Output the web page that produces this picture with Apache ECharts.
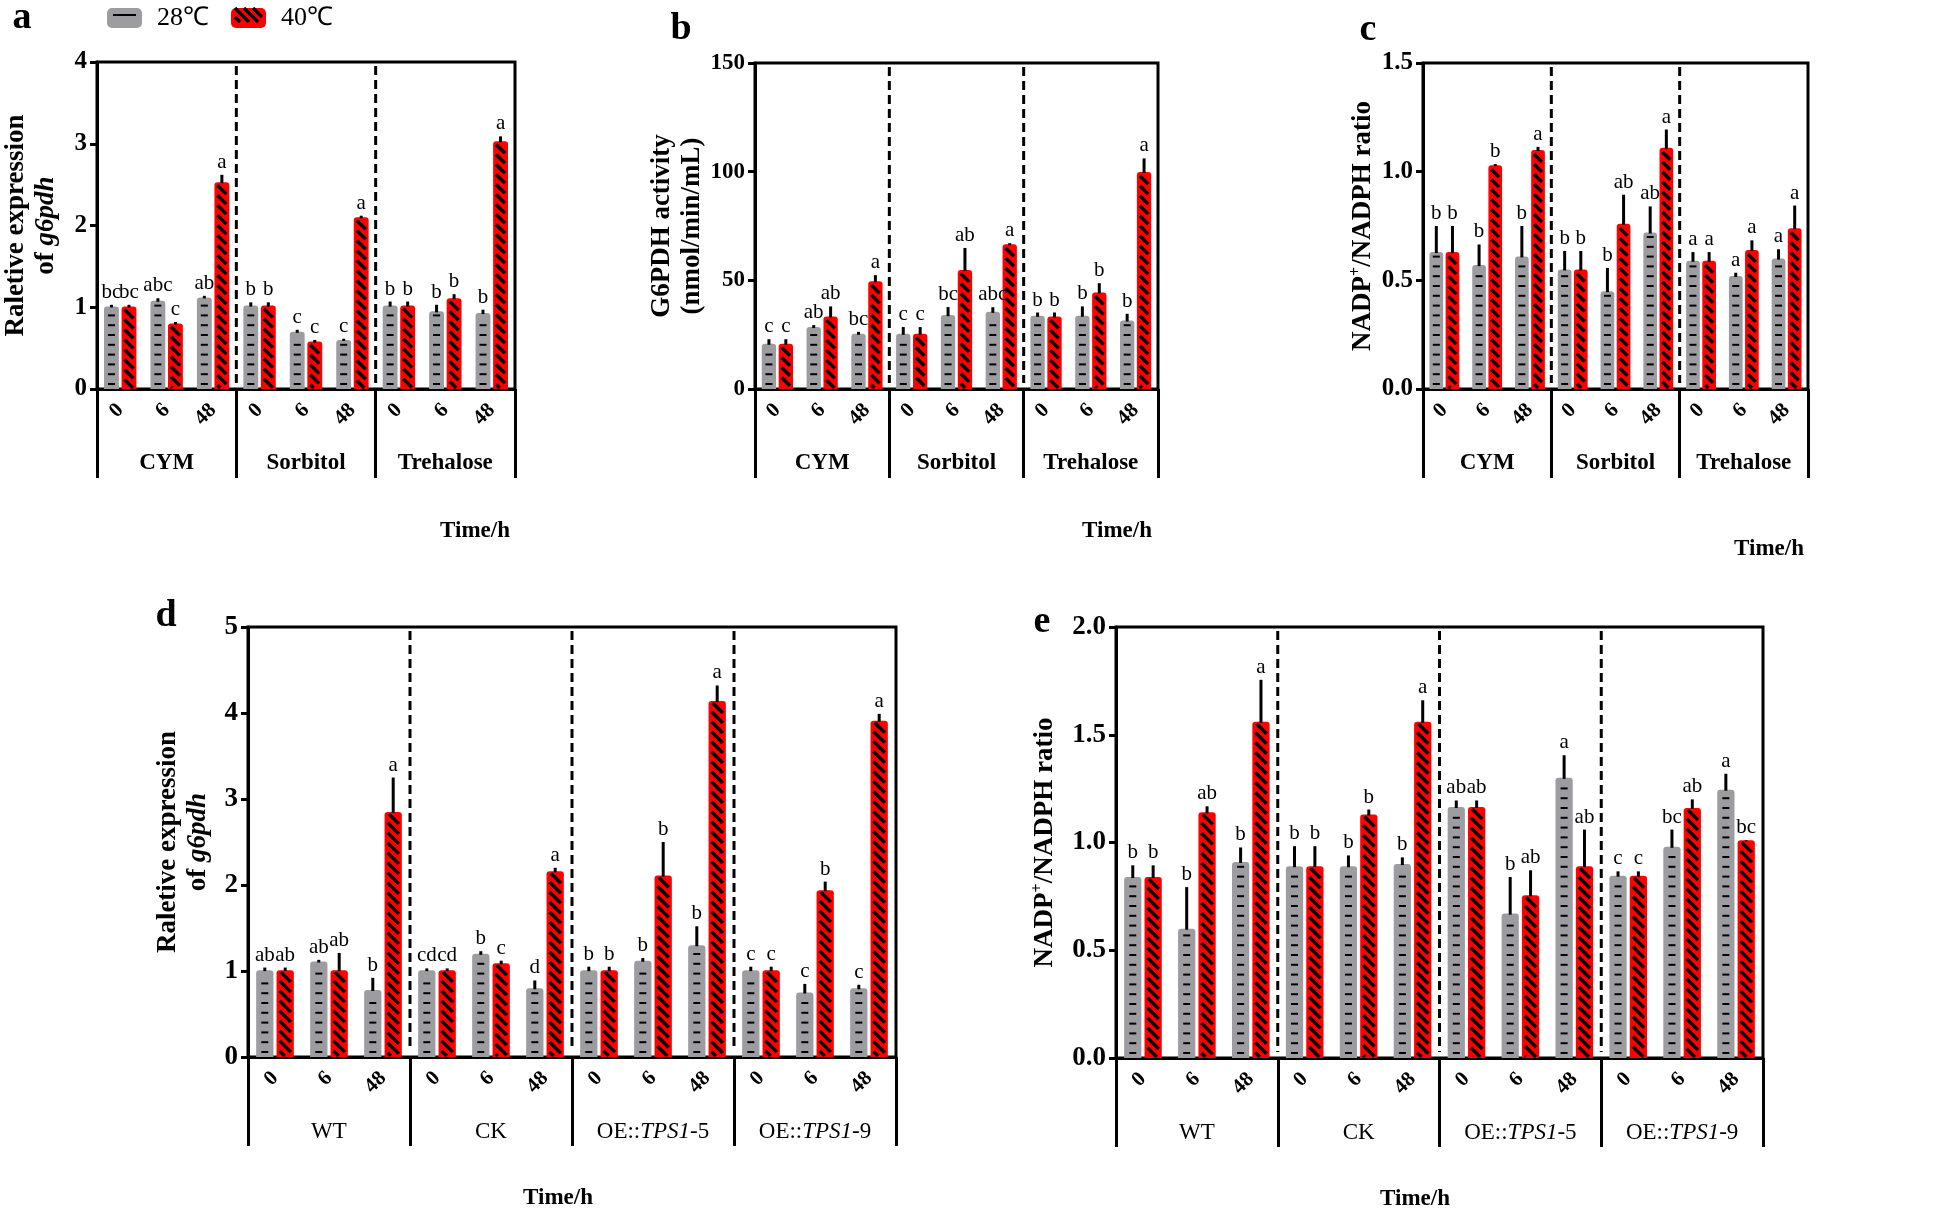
<!DOCTYPE html>
<html><head><meta charset="utf-8">
<script src="https://cdn.jsdelivr.net/npm/echarts@6/dist/echarts.min.js"></script>
<style>html,body{margin:0;padding:0;background:#fff}#c{width:1960px;height:1214px}</style>
</head><body><div id="c"></div><script>
// ---------- data ----------
const timeLabels = ['0', '6', '48'];
const groupsABC = ['CYM', 'Sorbitol', 'Trehalose'];
const groupsDE = ['WT', 'CK', 'OE::TPS1-5', 'OE::TPS1-9'];
const seriesNames = ['28℃', '40℃'];

// panel a: relative expression of g6pdh
const a_28 = [1.01, 1.08, 1.12, 1.02, 0.70, 0.60, 1.02, 0.95, 0.93];
const a_28_err = [0.02, 0.03, 0.02, 0.04, 0.025, 0.015, 0.05, 0.08, 0.04];
const a_28_sig = ['bc', 'abc', 'ab', 'b', 'c', 'c', 'b', 'b', 'b'];
const a_40 = [1.01, 0.80, 2.53, 1.02, 0.58, 2.10, 1.02, 1.11, 3.03];
const a_40_err = [0.02, 0.02, 0.09, 0.04, 0.02, 0.02, 0.05, 0.05, 0.06];
const a_40_sig = ['bc', 'c', 'a', 'b', 'c', 'a', 'b', 'b', 'a'];

// panel b: G6PDH activity
const b_28 = [20.8, 28.5, 25.4, 25.4, 34.0, 35.5, 33.7, 33.7, 31.5];
const b_28_err = [2.1, 0.9, 0.9, 3.1, 3.7, 2.1, 1.5, 4.3, 3.1];
const b_28_sig = ['c', 'ab', 'bc', 'c', 'bc', 'abc', 'b', 'b', 'b'];
const b_40 = [20.8, 33.4, 49.6, 25.4, 54.8, 66.6, 33.4, 44.4, 99.8];
const b_40_err = [2.1, 4.6, 2.8, 3.1, 10.1, 0.5, 1.8, 4.3, 6.3];
const b_40_sig = ['c', 'ab', 'a', 'c', 'ab', 'a', 'b', 'b', 'a'];

// panel c: NADP+/NADPH ratio
const c_28 = [0.63, 0.57, 0.61, 0.55, 0.45, 0.72, 0.59, 0.52, 0.60];
const c_28_err = [0.12, 0.095, 0.14, 0.085, 0.107, 0.12, 0.04, 0.015, 0.043];
const c_28_sig = ['b', 'b', 'b', 'b', 'b', 'ab', 'a', 'a', 'a'];
const c_40 = [0.63, 1.03, 1.10, 0.55, 0.76, 1.11, 0.59, 0.64, 0.74];
const c_40_err = [0.12, 0.005, 0.014, 0.085, 0.134, 0.084, 0.04, 0.044, 0.104];
const c_40_sig = ['b', 'b', 'a', 'b', 'ab', 'a', 'a', 'a', 'a'];

// panel d: relative expression of g6pdh
const d_28 = [1.01, 1.11, 0.78, 1.01, 1.20, 0.80, 1.01, 1.12, 1.30, 1.01, 0.75, 0.80];
const d_28_err = [0.03, 0.02, 0.14, 0.02, 0.03, 0.09, 0.04, 0.03, 0.22, 0.04, 0.10, 0.04];
const d_28_sig = ['ab', 'ab', 'b', 'cd', 'b', 'd', 'b', 'b', 'b', 'c', 'c', 'c'];
const d_40 = [1.01, 1.01, 2.85, 1.01, 1.09, 2.16, 1.01, 2.11, 4.14, 1.01, 1.94, 3.91];
const d_40_err = [0.03, 0.20, 0.40, 0.02, 0.03, 0.04, 0.04, 0.39, 0.18, 0.04, 0.10, 0.08];
const d_40_sig = ['ab', 'ab', 'a', 'cd', 'c', 'a', 'b', 'b', 'a', 'c', 'b', 'a'];

// panel e: NADP+/NADPH ratio
const e_28 = [0.84, 0.60, 0.91, 0.89, 0.89, 0.90, 1.165, 0.67, 1.30, 0.846, 0.98, 1.245];
const e_28_err = [0.054, 0.193, 0.067, 0.093, 0.05, 0.031, 0.03, 0.17, 0.105, 0.02, 0.08, 0.074];
const e_28_sig = ['b', 'b', 'b', 'b', 'b', 'b', 'ab', 'b', 'a', 'c', 'bc', 'a'];
const e_40 = [0.84, 1.14, 1.56, 0.89, 1.13, 1.56, 1.165, 0.755, 0.89, 0.846, 1.16, 1.01];
const e_40_err = [0.054, 0.028, 0.195, 0.093, 0.023, 0.10, 0.03, 0.116, 0.17, 0.02, 0.04, 0.0];
const e_40_sig = ['b', 'ab', 'a', 'b', 'b', 'a', 'ab', 'ab', 'ab', 'c', 'ab', 'bc'];

// ---------- styling / layout ----------
const FONT = 'Liberation Serif';
const GRAY = '#9d9da1', RED = '#ff0000';
const BW = 0.32, BG = 0.18;

const panels = [
  {label: 'a', groups: groupsABC, v28: a_28, e28: a_28_err, s28: a_28_sig, v40: a_40, e40: a_40_err, s40: a_40_sig,
   yMax: 4, yInt: 1, dec: 0, grid: {left: 87, top: 62, width: 428, height: 327},
   name: '{b|Raletive expression}\n{b|of }{bi|g6pdh}', nameGap: 36, ylab: 25, groupBold: true},
  {label: 'b', groups: groupsABC, v28: b_28, e28: b_28_err, s28: b_28_sig, v40: b_40, e40: b_40_err, s40: b_40_sig,
   yMax: 150, yInt: 50, dec: 0, grid: {left: 755, top: 63, width: 403, height: 326},
   name: '{b|G6PDH activity}\n{b|(nmol/min/mL)}', nameGap: 45, ylab: 23, groupBold: true},
  {label: 'c', groups: groupsABC, v28: c_28, e28: c_28_err, s28: c_28_sig, v40: c_40, e40: c_40_err, s40: c_40_sig,
   yMax: 1.5, yInt: 0.5, dec: 1, grid: {left: 1423, top: 63, width: 385, height: 326},
   name: '{b|NADP}{sup|+}{b|/NADPH ratio}', nameGap: 42, ylab: 25, groupBold: true},
  {label: 'd', groups: groupsDE, v28: d_28, e28: d_28_err, s28: d_28_sig, v40: d_40, e40: d_40_err, s40: d_40_sig,
   yMax: 5, yInt: 1, dec: 0, grid: {left: 248, top: 627, width: 648, height: 430},
   name: '{b|Raletive expression}\n{b|of }{bi|g6pdh}', nameGap: 35, ylab: 27, groupBold: false},
  {label: 'e', groups: groupsDE, v28: e_28, e28: e_28_err, s28: e_28_sig, v40: e_40, e40: e_40_err, s40: e_40_sig,
   yMax: 2, yInt: 0.5, dec: 1, grid: {left: 1116, top: 627, width: 647, height: 431},
   name: '{b|NADP}{sup|+}{b|/NADPH ratio}', nameGap: 56, ylab: 27, groupBold: false}
];
const panelLetterPos = [[22, 18], [681, 29], [1368, 30], [166, 616], [1042, 622]];
const timeTitlePos = [[475, 531], [1117, 531], [1769, 549], [558, 1198], [1415, 1199]];

function stripeLines(xl, xr, yt, yb, step, lw) {
  const out = [];
  const w = xr - xl;
  if (w <= 0 || yb <= yt) return out;
  for (let c = yt - w; c < yb; c += step) {
    const xs = Math.max(xl, xl + (yt - c));
    const xe = Math.min(xr, xl + (yb - c));
    if (xe - xs > 0.8) out.push({type: 'line', shape: {x1: xs, y1: c + (xs - xl), x2: xe, y2: c + (xe - xl)},
      style: {stroke: '#000', lineWidth: lw, lineCap: 'butt'}});
  }
  return out;
}

function overlay(k, side, vals, errs, sigs) {
  return {
    type: 'custom', xAxisIndex: 2 * k, yAxisIndex: k, z: 4, silent: true,
    encode: {x: 0, y: 1},
    data: vals.map((v, i) => [i, v, errs[i]]),
    renderItem: function (params, api) {
      const i = api.value(0), v = api.value(1), e = api.value(2);
      const band = api.size([1, 0])[0];
      const bw = band * BW;
      const off = side * (bw * (1 + BG)) / 2;
      const base = api.coord([i, 0]);
      const top = api.coord([i, v]);
      const et = api.coord([i, v + e]);
      const cx = base[0] + off;
      const x0 = cx - bw / 2, x1 = cx + bw / 2;
      let children = [];
      if (side < 0) {
        for (let y = base[1] - 5; y > top[1] + 4; y -= 9.8) {
          children.push({type: 'line', shape: {x1: cx - 3.5, y1: y, x2: cx + 3.5, y2: y},
            style: {stroke: '#000', lineWidth: 2}});
        }
      } else {
        children = children.concat(stripeLines(x0 + 3, x1 - 3, top[1] + 2, base[1] - 1, 10, 3.4));
      }
      children.push({type: 'line', shape: {x1: cx, y1: top[1] + 1, x2: cx, y2: et[1]},
        style: {stroke: '#000', lineWidth: 3}});
      children.push({type: 'text', x: cx, y: et[1] - 2,
        style: {text: sigs[params.dataIndex], fontFamily: FONT, fontSize: 21, fill: '#000',
          align: 'center', verticalAlign: 'bottom'}});
      return {type: 'group', children: children};
    }
  };
}

function separators(k, nGroups, yMax) {
  const idx = [];
  for (let g = 1; g < nGroups; g++) idx.push([g * 3, 0]);
  return {
    type: 'custom', xAxisIndex: 2 * k, yAxisIndex: k, z: 3, silent: true,
    encode: {x: 0, y: 1},
    data: idx,
    renderItem: function (params, api) {
      const i = api.value(0);
      const band = api.size([1, 0])[0];
      const b = api.coord([i, 0]);
      const t = api.coord([i, yMax]);
      const x = b[0] - band / 2;
      return {type: 'line', shape: {x1: x, y1: t[1] + 4, x2: x, y2: b[1] - 6},
        style: {stroke: '#000', lineWidth: 3, lineDash: [9, 5]}};
    }
  };
}

const grids = [], xAxes = [], yAxes = [], series = [], graphics = [];
const rich = {
  b: {fontFamily: FONT, fontWeight: 'bold', fontSize: 27, color: '#000', lineHeight: 30},
  bi: {fontFamily: FONT, fontWeight: 'bold', fontStyle: 'italic', fontSize: 27, color: '#000', lineHeight: 30},
  sup: {fontFamily: FONT, fontWeight: 'bold', fontSize: 16, color: '#000', verticalAlign: 'top', lineHeight: 30, padding: [0, 0, 12, 0]}
};
panels.forEach((p, k) => {
  const cats = p.groups.flatMap(g => timeLabels.map(t => g + '|' + t));
  grids.push(Object.assign({show: true, borderColor: '#000', borderWidth: 3, backgroundColor: 'transparent'}, p.grid));
  xAxes.push({
    type: 'category', gridIndex: k, data: cats, position: 'bottom', offset: 0,
    axisLine: {lineStyle: {color: '#000', width: 3}},
    axisTick: {alignWithLabel: true, interval: 0, length: 7, lineStyle: {color: '#000', width: 3}},
    axisLabel: {interval: 0, rotate: 45, margin: 18, fontFamily: FONT, fontWeight: 'bold', fontSize: 21, color: '#000',
      formatter: v => v.split('|')[1]},
    splitLine: {show: false}
  });
  xAxes.push({
    type: 'category', gridIndex: k, data: p.groups, position: 'bottom', offset: 0,
    axisLine: {show: false},
    axisTick: {show: true, interval: 0, length: 89, lineStyle: {color: '#000', width: 3}},
    axisLabel: {interval: 0, margin: 63, color: '#000',
      formatter: v => {
        const m = v.match(/^(OE::)(TPS1)(-\d+)$/);
        return m ? '{n|' + m[1] + '}{i|' + m[2] + '}{n|' + m[3] + '}' : '{n|' + v + '}';
      },
      rich: {
        n: {fontFamily: FONT, fontSize: 23, fontWeight: p.groupBold ? 'bold' : 'normal', color: '#000'},
        i: {fontFamily: FONT, fontSize: 23, fontStyle: 'italic', fontWeight: p.groupBold ? 'bold' : 'normal', color: '#000'}
      }},
    splitLine: {show: false}
  });
  yAxes.push({
    type: 'value', gridIndex: k, min: 0, max: p.yMax, interval: p.yInt,
    axisLine: {show: true, lineStyle: {color: '#000', width: 3}},
    axisTick: {show: true, length: 7, lineStyle: {color: '#000', width: 3}},
    axisLabel: {margin: 10, fontFamily: FONT, fontWeight: 'bold', fontSize: p.ylab, color: '#000',
      formatter: v => v.toFixed(p.dec)},
    splitLine: {show: false},
    name: p.name, nameLocation: 'middle', nameRotate: 90, nameGap: p.nameGap,
    nameTextStyle: {rich: rich, fontFamily: FONT, fontWeight: 'bold', fontSize: 27, color: '#000', lineHeight: 30}
  });
  series.push({type: 'bar', name: seriesNames[0], xAxisIndex: 2 * k, yAxisIndex: k, data: p.v28,
    barWidth: (BW * 100) + '%', barGap: (BG * 100) + '%',
    itemStyle: {color: GRAY, borderRadius: [3, 3, 0, 0]}});
  series.push({type: 'bar', name: seriesNames[1], xAxisIndex: 2 * k, yAxisIndex: k, data: p.v40,
    barWidth: (BW * 100) + '%', barGap: (BG * 100) + '%',
    itemStyle: {color: RED, borderRadius: [3, 3, 0, 0]}});
  series.push(overlay(k, -1, p.v28, p.e28, p.s28));
  series.push(overlay(k, 1, p.v40, p.e40, p.s40));
  series.push(separators(k, p.groups.length, p.yMax));
  graphics.push({type: 'text', x: panelLetterPos[k][0], y: panelLetterPos[k][1],
    style: {text: p.label, fontFamily: FONT, fontWeight: 'bold', fontSize: 38, fill: '#000', align: 'center', verticalAlign: 'middle'}});
  graphics.push({type: 'text', x: timeTitlePos[k][0], y: timeTitlePos[k][1],
    style: {text: 'Time/h', fontFamily: FONT, fontWeight: 'bold', fontSize: 23, fill: '#000', align: 'center', verticalAlign: 'middle'}});
});

// legend icon decorations (pattern marks on the legend swatches)
graphics.push({type: 'line', shape: {x1: 113, y1: 15, x2: 136, y2: 15}, style: {stroke: '#000', lineWidth: 2}, z: 100});
stripeLines(235, 262, 8, 22, 9, 3.4).forEach(l => { l.z = 100; graphics.push(l); });

const legendCommon = {top: 5, padding: 0, itemWidth: 35, itemHeight: 20, icon: 'roundRect', selectedMode: false,
  textStyle: {fontFamily: FONT, fontSize: 26, lineHeight: 20, color: '#000', padding: [0, 0, 0, 10]}};

const chart = echarts.init(document.getElementById('c'));
chart.setOption({
  backgroundColor: '#fff',
  animation: false,
  legend: [Object.assign({left: 107, data: [seriesNames[0]]}, legendCommon),
           Object.assign({left: 231, data: [seriesNames[1]]}, legendCommon)],
  grid: grids,
  xAxis: xAxes,
  yAxis: yAxes,
  series: series,
  graphic: graphics
});
</script></body></html>
